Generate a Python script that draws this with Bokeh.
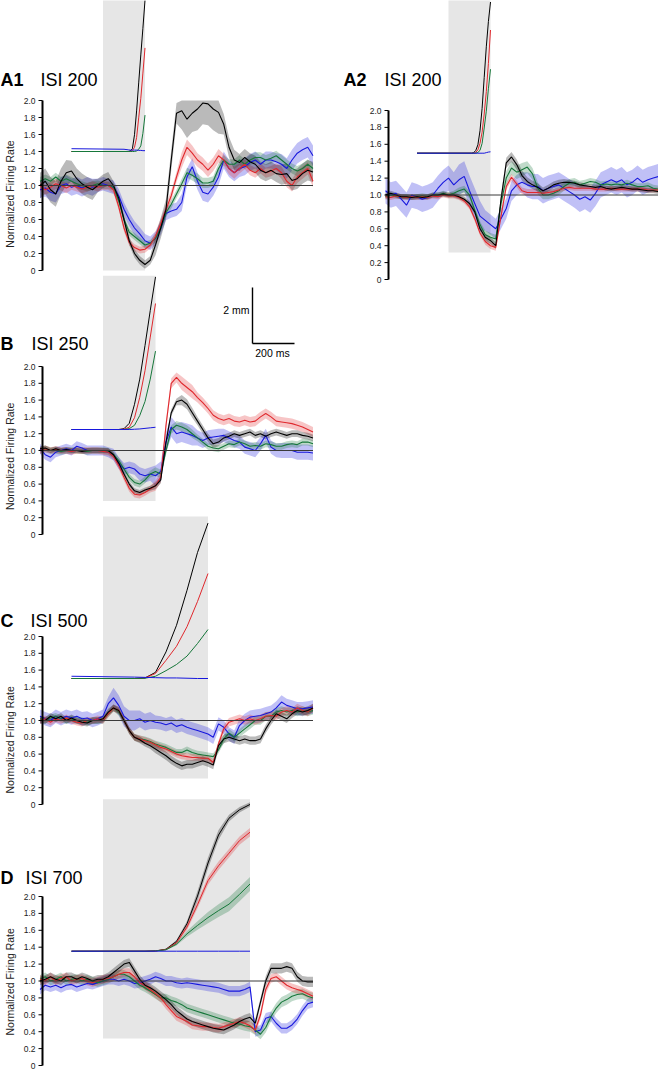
import numpy as np
from bokeh.plotting import figure
from bokeh.models import Range1d
from bokeh.core.properties import value
from bokeh.embed import file_html
from bokeh.resources import INLINE

# ---------------------------------------------------------------- data
TIME_MS = list(range(-300, 1001, 25))        # firing-rate time base, ms from CS onset
SEM_TIME_MS = list(range(-300, 1001, 100))   # time base of the SEM values
TICK_VALUES = [0.0, 0.2, 0.4, 0.6, 0.8, 1.0, 1.2, 1.4, 1.6, 1.8, 2.0]
TICK_LABELS = ["0", "0.2", "0.4", "0.6", "0.8", "1.0", "1.2", "1.4", "1.6", "1.8", "2.0"]
Y_LABEL = "Normalized Firing Rate"
SCALE_MM = 2
SCALE_MS = 200
SCALE_LABELS = ["2 mm", "200 ms"]

# ---- A1, ISI 200
A1_ISI = 200
A1_BLACK = [1.00, 1.05, 0.95, 0.90, 1.05, 1.15, 1.17, 1.08, 1.02, 0.98, 0.95, 1.00, 1.05,
            1.08, 1.00, 0.85, 0.60, 0.35, 0.20, 0.12, 0.07, 0.12, 0.30, 0.50, 0.72, 1.30,
            1.85, 1.88, 1.78, 1.85, 1.90, 1.97, 1.96, 1.90, 1.86, 1.72, 1.45, 1.30, 1.27,
            1.33, 1.28, 1.25, 1.18, 1.15, 1.18, 1.14, 1.13, 1.14, 1.06, 1.08, 1.14, 1.18,
            1.16]
A1_RED = [1.00, 0.95, 0.98, 1.02, 1.00, 0.97, 1.00, 0.98, 0.96, 0.98, 1.00, 0.98, 1.00,
          1.00, 0.95, 0.75, 0.50, 0.33, 0.27, 0.24, 0.25, 0.30, 0.40, 0.55, 0.72, 0.88,
          1.10, 1.30, 1.45, 1.38, 1.30, 1.25, 1.18, 1.25, 1.35, 1.30, 1.20, 1.15, 1.20,
          1.25, 1.18, 1.15, 1.20, 1.15, 1.17, 1.20, 1.15, 1.05, 1.00, 1.10, 1.15, 1.20,
          1.05]
A1_GREEN = [1.05, 1.08, 1.05, 1.10, 1.05, 1.08, 1.05, 1.02, 1.00, 0.98, 1.00, 1.02, 1.00,
            1.00, 0.98, 0.82, 0.60, 0.45, 0.40, 0.35, 0.30, 0.32, 0.38, 0.50, 0.68, 0.78,
            0.90, 1.02, 1.15, 1.12, 1.08, 1.03, 1.03, 1.05, 1.20, 1.30, 1.25, 1.25, 1.30,
            1.25, 1.30, 1.33, 1.33, 1.30, 1.32, 1.35, 1.30, 1.25, 1.20, 1.17, 1.20, 1.25,
            1.20]
A1_BLUE = [0.95, 0.97, 0.92, 0.90, 1.00, 1.02, 0.98, 1.00, 0.97, 1.00, 0.98, 1.00, 1.02,
           1.00, 0.98, 0.88, 0.72, 0.60, 0.50, 0.43, 0.35, 0.32, 0.38, 0.50, 0.67, 0.70,
           0.72, 0.80, 1.10, 1.22, 1.05, 0.92, 0.90, 0.98, 1.10, 1.30, 1.20, 1.15, 1.20,
           1.22, 1.27, 1.30, 1.25, 1.30, 1.30, 1.28, 1.25, 1.20, 1.30, 1.38, 1.42, 1.45,
           1.35]
A1_SEM_BLACK = [0.15, 0.15, 0.12, 0.08, 0.05, 0.05, 0.12, 0.22, 0.25, 0.12, 0.10, 0.10, 0.12, 0.12]
A1_SEM_RED = [0.06, 0.06, 0.05, 0.05, 0.04, 0.04, 0.06, 0.09, 0.08, 0.07, 0.06, 0.06, 0.07, 0.07]
A1_SEM_GREEN = [0.05, 0.05, 0.05, 0.04, 0.04, 0.04, 0.05, 0.06, 0.06, 0.06, 0.06, 0.06, 0.06, 0.06]
A1_SEM_BLUE = [0.10, 0.10, 0.10, 0.08, 0.08, 0.08, 0.08, 0.10, 0.10, 0.10, 0.10, 0.10, 0.12, 0.12]
A1_EYE_T = [-150, 100, 120, 130, 140, 150, 160, 170, 180, 190, 200]
A1_EYE_BLACK = [0, 0, 0.0, 0.02, 0.1, 0.6, 1.45, 2.45, 3.45, 4.4, 5.4]
A1_EYE_RED = [0, 0, 0, 0.0, 0.03, 0.15, 0.5, 1.2, 1.9, 2.8, 3.7]
A1_EYE_GREEN = [0, 0, 0, 0, 0, 0.0, 0.02, 0.08, 0.2, 0.65, 1.3]
A1_EYE_BLUE = [0.1, 0.08, 0.06, 0.05, 0.05, 0.05, 0.05, 0.04, 0.04, 0.03, 0.03]

# ---- A2, ISI 200
A2_ISI = 200
A2_BLACK = [1.00, 1.02, 1.00, 0.98, 0.98, 0.97, 0.98, 0.97, 0.98, 1.00, 1.00, 1.01, 1.00,
            1.00, 0.98, 0.95, 0.90, 0.80, 0.60, 0.50, 0.46, 0.40, 0.95, 1.38, 1.45, 1.36,
            1.23, 1.16, 1.12, 1.09, 1.05, 1.08, 1.12, 1.14, 1.15, 1.15, 1.14, 1.12, 1.11,
            1.10, 1.09, 1.10, 1.08, 1.07, 1.08, 1.09, 1.08, 1.07, 1.07, 1.06, 1.05, 1.05,
            1.04]
A2_RED = [0.98, 0.97, 0.99, 0.98, 0.97, 0.98, 0.97, 0.98, 0.97, 0.99, 0.98, 1.00, 0.99,
          0.99, 0.97, 0.93, 0.86, 0.72, 0.55, 0.45, 0.40, 0.38, 0.75, 1.10, 1.21, 1.13,
          1.05, 1.03, 1.03, 1.03, 1.02, 1.03, 1.04, 1.06, 1.08, 1.09, 1.08, 1.08, 1.08,
          1.08, 1.07, 1.07, 1.07, 1.08, 1.07, 1.07, 1.07, 1.07, 1.07, 1.07, 1.06, 1.06,
          1.06]
A2_GREEN = [0.98, 1.00, 0.99, 0.98, 0.98, 0.97, 0.98, 0.99, 0.98, 1.00, 1.00, 1.02, 1.00,
            1.02, 1.05, 1.07, 1.00, 0.82, 0.65, 0.53, 0.50, 0.48, 0.90, 1.20, 1.32, 1.27,
            1.30, 1.33, 1.25, 1.08, 1.00, 1.00, 1.02, 1.05, 1.10, 1.14, 1.15, 1.12, 1.14,
            1.16, 1.15, 1.12, 1.13, 1.12, 1.13, 1.12, 1.14, 1.12, 1.10, 1.10, 1.11, 1.08,
            1.07]
A2_BLUE = [1.05, 1.00, 1.02, 0.95, 0.88, 1.00, 0.98, 0.95, 0.97, 1.00, 1.08, 1.15, 1.20,
           1.12, 1.18, 1.22, 1.05, 0.90, 0.75, 0.70, 0.65, 0.60, 0.72, 0.84, 1.05, 1.12,
           1.15, 1.12, 1.10, 1.10, 1.05, 1.08, 1.10, 1.12, 1.08, 1.04, 1.00, 0.95, 0.98,
           0.94, 1.02, 1.12, 1.15, 1.18, 1.15, 1.18, 1.12, 1.15, 1.20, 1.15, 1.18, 1.20,
           1.22]
A2_SEM_BLACK = [0.03, 0.03, 0.03, 0.03, 0.03, 0.04, 0.06, 0.05, 0.04, 0.03, 0.03, 0.03, 0.03, 0.03]
A2_SEM_RED = [0.03, 0.03, 0.03, 0.03, 0.03, 0.04, 0.04, 0.04, 0.03, 0.03, 0.03, 0.03, 0.03, 0.03]
A2_SEM_GREEN = [0.03, 0.03, 0.03, 0.03, 0.04, 0.05, 0.08, 0.07, 0.05, 0.05, 0.04, 0.04, 0.04, 0.04]
A2_SEM_BLUE = [0.15, 0.15, 0.15, 0.15, 0.18, 0.12, 0.12, 0.15, 0.15, 0.15, 0.15, 0.15, 0.15, 0.15]
A2_EYE_T = [-150, 110, 120, 130, 140, 150, 160, 170, 180, 190, 200]
A2_EYE_BLACK = [0, 0, 0.02, 0.1, 0.3, 0.8, 1.6, 2.7, 3.8, 4.7, 5.4]
A2_EYE_RED = [0, 0, 0, 0.03, 0.12, 0.35, 0.75, 1.4, 2.2, 3.2, 4.4]
A2_EYE_GREEN = [0, 0, 0, 0, 0.03, 0.1, 0.35, 0.9, 1.5, 2.3, 3.0]
A2_EYE_BLUE = [0, 0, 0, 0, 0, 0, 0, 0, 0.02, 0.04, 0.05]

# ---- B, ISI 250
B_ISI = 250
B_BLACK = [1.02, 1.03, 1.00, 1.02, 1.00, 1.01, 1.00, 1.00, 0.99, 1.00, 1.00, 1.00, 1.00,
           1.00, 0.95, 0.85, 0.72, 0.60, 0.52, 0.50, 0.53, 0.55, 0.58, 0.65, 1.10, 1.45,
           1.58, 1.60, 1.55, 1.45, 1.35, 1.25, 1.15, 1.08, 1.10, 1.15, 1.17, 1.20, 1.18,
           1.20, 1.22, 1.18, 1.20, 1.17, 1.20, 1.22, 1.20, 1.18, 1.20, 1.20, 1.18, 1.17,
           1.15]
B_RED = [1.00, 1.02, 1.00, 1.01, 1.00, 1.00, 0.99, 1.00, 1.00, 1.00, 1.00, 1.00, 0.99,
         0.98, 0.93, 0.82, 0.68, 0.55, 0.48, 0.47, 0.50, 0.54, 0.58, 0.68, 1.30, 1.80,
         1.87, 1.80, 1.75, 1.70, 1.63, 1.57, 1.50, 1.42, 1.38, 1.36, 1.38, 1.35, 1.34,
         1.36, 1.34, 1.35, 1.40, 1.44, 1.40, 1.35, 1.34, 1.33, 1.32, 1.30, 1.28, 1.25,
         1.22]
B_GREEN = [1.00, 1.02, 1.00, 1.00, 0.99, 1.00, 1.00, 1.00, 1.00, 0.99, 1.00, 1.00, 1.00,
           0.99, 0.95, 0.88, 0.78, 0.68, 0.62, 0.60, 0.65, 0.72, 0.75, 0.72, 1.00, 1.25,
           1.30, 1.28, 1.25, 1.20, 1.15, 1.10, 1.05, 1.03, 1.02, 1.05, 1.08, 1.07, 1.10,
           1.08, 1.05, 1.06, 1.05, 1.08, 1.07, 1.05, 1.05, 1.07, 1.08, 1.07, 1.10, 1.10,
           1.08]
B_BLUE = [1.02, 0.95, 0.92, 0.98, 1.00, 1.02, 1.00, 1.05, 1.03, 1.00, 1.00, 1.00, 1.00,
          0.98, 0.95, 0.85, 0.78, 0.80, 0.78, 0.72, 0.70, 0.72, 0.70, 0.75, 1.10, 1.28,
          1.20, 1.22, 1.20, 1.18, 1.15, 1.12, 1.15, 1.16, 1.17, 1.18, 1.15, 1.12, 1.10,
          1.04, 1.02, 1.00, 1.08, 1.18, 1.04, 1.00, 1.00, 1.00, 1.00, 0.98, 0.98, 0.98,
          0.97]
B_SEM_BLACK = [0.03, 0.03, 0.03, 0.03, 0.03, 0.03, 0.04, 0.06, 0.05, 0.04, 0.04, 0.04, 0.04, 0.04]
B_SEM_RED = [0.04, 0.04, 0.04, 0.04, 0.04, 0.04, 0.06, 0.08, 0.06, 0.06, 0.06, 0.06, 0.06, 0.06]
B_SEM_GREEN = [0.04, 0.04, 0.04, 0.04, 0.04, 0.04, 0.05, 0.05, 0.04, 0.04, 0.04, 0.04, 0.04, 0.04]
B_SEM_BLUE = [0.06, 0.06, 0.06, 0.06, 0.07, 0.08, 0.12, 0.12, 0.09, 0.08, 0.08, 0.08, 0.09, 0.09]
B_EYE_T = [-150, 75, 100, 125, 150, 175, 200, 225, 250]
B_EYE_BLACK = [0, 0, 0.03, 0.22, 0.9, 1.8, 3.0, 4.25, 5.45]
B_EYE_RED = [0, 0, 0.01, 0.08, 0.42, 1.15, 2.1, 3.3, 4.5]
B_EYE_GREEN = [0, 0, 0, 0.03, 0.15, 0.5, 1.0, 1.8, 2.8]
B_EYE_BLUE = [0, 0, 0, 0, 0.01, 0.02, 0.04, 0.06, 0.08]

# ---- C, ISI 500
C_ISI = 500
C_BLACK = [1.00, 1.00, 1.05, 1.02, 1.05, 1.00, 1.03, 1.00, 0.98, 0.97, 1.00, 1.00, 1.02,
           1.10, 1.15, 1.12, 1.00, 0.88, 0.80, 0.77, 0.73, 0.70, 0.66, 0.62, 0.58, 0.53,
           0.49, 0.46, 0.48, 0.48, 0.50, 0.52, 0.50, 0.47, 0.70, 0.78, 0.80, 0.78, 0.76,
           0.78, 0.76, 0.76, 0.78, 0.90, 1.00, 1.08, 1.05, 1.02, 1.08, 1.12, 1.10, 1.12,
           1.15]
C_RED = [1.00, 1.02, 0.98, 1.02, 1.00, 1.03, 1.00, 0.98, 0.97, 1.00, 1.00, 1.02, 1.00,
         1.08, 1.15, 1.12, 1.00, 0.88, 0.80, 0.78, 0.76, 0.74, 0.71, 0.68, 0.66, 0.63,
         0.60, 0.58, 0.57, 0.56, 0.56, 0.55, 0.55, 0.50, 0.72, 0.90, 0.98, 1.00, 1.02,
         1.00, 1.02, 1.00, 1.02, 1.05, 1.06, 1.05, 1.10, 1.12, 1.10, 1.15, 1.12, 1.10,
         1.15]
C_GREEN = [1.02, 1.00, 1.03, 1.05, 1.02, 1.00, 1.02, 1.00, 1.00, 0.98, 1.00, 1.00, 1.00,
           1.08, 1.15, 1.10, 1.00, 0.88, 0.80, 0.78, 0.77, 0.75, 0.72, 0.70, 0.68, 0.65,
           0.62, 0.62, 0.65, 0.62, 0.60, 0.59, 0.58, 0.57, 0.65, 0.78, 0.85, 0.80, 0.85,
           0.90, 0.95, 1.00, 1.00, 1.05, 1.05, 1.10, 1.12, 1.10, 1.12, 1.10, 1.12, 1.10,
           1.12]
C_BLUE = [1.05, 1.02, 1.00, 1.05, 1.02, 1.05, 1.03, 1.05, 1.02, 1.03, 1.00, 1.02, 1.05,
          1.20, 1.27, 1.18, 1.05, 1.00, 1.00, 1.02, 0.98, 1.00, 0.98, 0.97, 0.95, 0.97,
          0.93, 0.95, 0.92, 0.90, 0.88, 0.86, 0.84, 0.80, 0.96, 0.92, 0.84, 0.80, 0.94,
          1.00, 1.04, 1.05, 1.06, 1.08, 1.10, 1.15, 1.22, 1.18, 1.16, 1.14, 1.14, 1.15,
          1.16]
C_SEM_BLACK = [0.04, 0.04, 0.04, 0.04, 0.04, 0.04, 0.05, 0.05, 0.05, 0.05, 0.05, 0.05, 0.05, 0.05]
C_SEM_RED = [0.04, 0.04, 0.04, 0.04, 0.04, 0.04, 0.04, 0.04, 0.04, 0.05, 0.05, 0.05, 0.05, 0.05]
C_SEM_GREEN = [0.04, 0.04, 0.04, 0.04, 0.04, 0.04, 0.04, 0.04, 0.04, 0.05, 0.05, 0.05, 0.05, 0.05]
C_SEM_BLUE = [0.08, 0.08, 0.08, 0.08, 0.12, 0.10, 0.08, 0.08, 0.08, 0.08, 0.08, 0.08, 0.08, 0.08]
C_EYE_T = [-150, 150, 200, 250, 300, 350, 400, 450, 500]
C_EYE_BLACK = [0, 0, 0.02, 0.22, 0.95, 1.9, 3.15, 4.5, 5.55]
C_EYE_RED = [0, 0, 0.02, 0.18, 0.65, 1.15, 1.85, 2.75, 3.75]
C_EYE_GREEN = [0, 0, 0.01, 0.08, 0.28, 0.5, 0.8, 1.25, 1.75]
C_EYE_BLUE = [0.08, 0.05, 0.04, 0.03, 0.02, 0.02, 0.01, 0.0, 0.0]

# ---- D, ISI 700
D_ISI = 700
D_BLACK = [1.00, 1.02, 1.05, 1.02, 1.00, 1.05, 1.05, 1.02, 1.05, 1.03, 1.00, 1.02, 1.02,
           1.05, 1.10, 1.15, 1.20, 1.22, 1.12, 1.02, 0.95, 0.92, 0.88, 0.83, 0.78, 0.72,
           0.65, 0.60, 0.55, 0.52, 0.50, 0.48, 0.46, 0.44, 0.43, 0.42, 0.45, 0.48, 0.52,
           0.55, 0.57, 0.50, 0.75, 1.00, 1.15, 1.15, 1.15, 1.17, 1.15, 1.05, 1.00, 0.99,
           0.99]
D_RED = [1.02, 1.00, 1.05, 1.00, 1.03, 1.05, 1.00, 1.02, 1.03, 1.00, 0.98, 1.00, 1.02,
         1.03, 1.05, 1.08, 1.10, 1.10, 1.05, 0.98, 0.95, 0.90, 0.85, 0.80, 0.72, 0.65,
         0.58, 0.55, 0.52, 0.48, 0.47, 0.46, 0.46, 0.45, 0.44, 0.46, 0.48, 0.50, 0.52,
         0.50, 0.47, 0.42, 0.60, 0.90, 1.03, 1.05, 1.00, 0.95, 0.92, 0.90, 0.88, 0.85,
         0.82]
D_GREEN = [1.02, 1.05, 1.00, 1.02, 1.05, 1.00, 1.02, 1.03, 1.00, 1.02, 1.00, 0.98, 1.00,
           1.02, 1.05, 1.08, 1.08, 1.05, 1.00, 0.95, 0.92, 0.88, 0.84, 0.80, 0.80, 0.77,
           0.75, 0.72, 0.68, 0.66, 0.64, 0.62, 0.60, 0.58, 0.56, 0.54, 0.52, 0.50, 0.49,
           0.47, 0.46, 0.42, 0.37, 0.45, 0.58, 0.68, 0.75, 0.78, 0.82, 0.84, 0.85, 0.82,
           0.80]
D_BLUE = [0.90, 0.95, 0.93, 0.95, 0.92, 0.95, 0.96, 0.93, 0.95, 0.97, 0.96, 0.98, 1.00,
          1.02, 1.02, 1.00, 1.02, 1.00, 0.97, 0.98, 1.00, 1.02, 1.05, 1.03, 1.00, 1.00,
          0.98, 0.97, 0.98, 0.97, 0.96, 0.95, 0.94, 0.93, 0.92, 0.90, 0.88, 0.88, 0.88,
          0.90, 0.93, 0.40, 0.42, 0.56, 0.58, 0.50, 0.44, 0.44, 0.48, 0.55, 0.65, 0.73,
          0.75]
D_SEM_BLACK = [0.05, 0.05, 0.05, 0.05, 0.05, 0.05, 0.05, 0.05, 0.05, 0.05, 0.05, 0.06, 0.06, 0.06]
D_SEM_RED = [0.05, 0.05, 0.05, 0.05, 0.05, 0.05, 0.05, 0.05, 0.05, 0.05, 0.05, 0.05, 0.05, 0.05]
D_SEM_GREEN = [0.05, 0.05, 0.05, 0.05, 0.05, 0.05, 0.05, 0.05, 0.05, 0.05, 0.06, 0.06, 0.06, 0.06]
D_SEM_BLUE = [0.06, 0.06, 0.06, 0.06, 0.06, 0.06, 0.06, 0.06, 0.06, 0.06, 0.06, 0.06, 0.06, 0.06]
D_EYE_T = [-150, 200, 250, 300, 350, 400, 450, 500, 550, 600, 650, 700]
D_EYE_BLACK = [0, 0, 0.01, 0.07, 0.35, 0.98, 1.97, 3.15, 4.15, 4.75, 5.05, 5.24]
D_EYE_RED = [0, 0, 0.01, 0.06, 0.3, 0.86, 1.66, 2.52, 3.05, 3.5, 3.95, 4.25]
D_EYE_GREEN = [0, 0, 0.01, 0.05, 0.25, 0.62, 0.92, 1.2, 1.45, 1.68, 2.03, 2.4]
D_EYE_BLUE = [0, 0, 0, 0, 0, 0, 0, 0, 0, 0, 0, 0]
D_EYE_SEM_BLACK = [0, 0, 0, 0.02, 0.05, 0.1, 0.18, 0.2, 0.18, 0.12, 0.1, 0.08]
D_EYE_SEM_RED = [0, 0, 0, 0.02, 0.05, 0.1, 0.13, 0.15, 0.15, 0.15, 0.15, 0.15]
D_EYE_SEM_GREEN = [0, 0, 0, 0.02, 0.05, 0.1, 0.15, 0.2, 0.23, 0.25, 0.25, 0.25]
D_EYE_SEM_BLUE = [0, 0, 0, 0, 0, 0, 0, 0, 0, 0, 0, 0]

# ---------------------------------------------------------------- layout / style
W, H, M = 658, 1069, 0          # canvas size and page offset (template has no body margin)
PXMS = 0.21                     # pixels per ms
MMPX = 28.0                     # pixels per mm of eyelid closure
FONT = "Liberation Sans"
COLORS = {"black": "#000000", "red": "#e0282d", "green": "#16773a", "blue": "#1717dd"}
ORDER = ["blue", "green", "red", "black"]

PANELS = [
    dict(key="A1", letter="A1", isi_text="ISI 200", isi=A1_ISI, x0=102.5, axis_x=42, y0=270, k=85,
         yb=151, gray=(0.0, 3.4), letter_x=0, isi_x=40, base_y=79, ylabel_r=0.9,
         rate=dict(black=A1_BLACK, red=A1_RED, green=A1_GREEN, blue=A1_BLUE),
         sem=dict(black=A1_SEM_BLACK, red=A1_SEM_RED, green=A1_SEM_GREEN, blue=A1_SEM_BLUE),
         eye_t=A1_EYE_T, eye=dict(black=A1_EYE_BLACK, red=A1_EYE_RED, green=A1_EYE_GREEN, blue=A1_EYE_BLUE),
         eye_sem=None),
    dict(key="A2", letter="A2", isi_text="ISI 200", isi=A2_ISI, x0=448, axis_x=388, y0=279, k=84.5,
         yb=152.7, gray=(0.32, 3.5), letter_x=343, isi_x=384, base_y=79, ylabel_r=None,
         rate=dict(black=A2_BLACK, red=A2_RED, green=A2_GREEN, blue=A2_BLUE),
         sem=dict(black=A2_SEM_BLACK, red=A2_SEM_RED, green=A2_SEM_GREEN, blue=A2_SEM_BLUE),
         eye_t=A2_EYE_T, eye=dict(black=A2_EYE_BLACK, red=A2_EYE_RED, green=A2_EYE_GREEN, blue=A2_EYE_BLUE),
         eye_sem=None),
    dict(key="B", letter="B", isi_text="ISI 250", isi=B_ISI, x0=102.5, axis_x=42, y0=534, k=84,
         yb=429, gray=(0.40, 3.08), letter_x=0, isi_x=31, base_y=343, ylabel_r=0.93,
         rate=dict(black=B_BLACK, red=B_RED, green=B_GREEN, blue=B_BLUE),
         sem=dict(black=B_SEM_BLACK, red=B_SEM_RED, green=B_SEM_GREEN, blue=B_SEM_BLUE),
         eye_t=B_EYE_T, eye=dict(black=B_EYE_BLACK, red=B_EYE_RED, green=B_EYE_GREEN, blue=B_EYE_BLUE),
         eye_sem=None),
    dict(key="C", letter="C", isi_text="ISI 500", isi=C_ISI, x0=102.5, axis_x=42, y0=804, k=84,
         yb=678, gray=(0.31, 3.43), letter_x=0, isi_x=30, base_y=620, ylabel_r=0.77,
         rate=dict(black=C_BLACK, red=C_RED, green=C_GREEN, blue=C_BLUE),
         sem=dict(black=C_SEM_BLACK, red=C_SEM_RED, green=C_SEM_GREEN, blue=C_SEM_BLUE),
         eye_t=C_EYE_T, eye=dict(black=C_EYE_BLACK, red=C_EYE_RED, green=C_EYE_GREEN, blue=C_EYE_BLUE),
         eye_sem=None),
    dict(key="D", letter="D", isi_text="ISI 700", isi=D_ISI, x0=102.5, axis_x=42, y0=1065, k=84.5,
         yb=950.7, gray=(0.32, 3.15), letter_x=0, isi_x=25, base_y=877, ylabel_r=0.99,
         rate=dict(black=D_BLACK, red=D_RED, green=D_GREEN, blue=D_BLUE),
         sem=dict(black=D_SEM_BLACK, red=D_SEM_RED, green=D_SEM_GREEN, blue=D_SEM_BLUE),
         eye_t=D_EYE_T, eye=dict(black=D_EYE_BLACK, red=D_EYE_RED, green=D_EYE_GREEN, blue=D_EYE_BLUE),
         eye_sem=dict(black=D_EYE_SEM_BLACK, red=D_EYE_SEM_RED, green=D_EYE_SEM_GREEN, blue=D_EYE_SEM_BLUE)),
]


def time_range(x0):
    return Range1d(start=(M - x0) / PXMS, end=(M + W - x0) / PXMS)


def value_range(y0, k):
    return Range1d(start=(y0 - (M + H)) / k, end=(y0 - M) / k)


p = figure(width=W, height=H, x_range=time_range(102.5), y_range=Range1d(0, 1),
           output_backend="svg", toolbar_location=None, min_border=0,
           x_axis_type=None, y_axis_type=None, outline_line_color=None,
           background_fill_color="white", border_fill_color="white", title=None)

extra_x = {"right": time_range(448)}
extra_y = {}
for pn in PANELS:
    extra_y[pn["key"] + "_r"] = value_range(pn["y0"], pn["k"])
    extra_y[pn["key"] + "_e"] = value_range(pn["yb"], MMPX)
p.extra_x_ranges = extra_x
p.extra_y_ranges = extra_y

t = np.array(TIME_MS, dtype=float)
sem_idx = np.rint((t - SEM_TIME_MS[0]) / (SEM_TIME_MS[1] - SEM_TIME_MS[0])).astype(int)
tf = value(FONT)

for pn in PANELS:
    xn = "right" if pn["key"] == "A2" else "default"
    rn, en = pn["key"] + "_r", pn["key"] + "_e"
    x0, y0, k = pn["x0"], pn["y0"], pn["k"]
    kr = dict(x_range_name=xn, y_range_name=rn)
    ke = dict(x_range_name=xn, y_range_name=en)

    # CS-US interval shading
    p.quad(left=[0], right=[pn["isi"]], bottom=[pn["gray"][0]], top=[pn["gray"][1]],
           fill_color="#e6e6e6", line_color=None, **kr)

    # eyelid traces
    et = np.array(pn["eye_t"], dtype=float)
    for s in ["black", "red", "green", "blue"]:
        v = np.array(pn["eye"][s], dtype=float)
        if pn["eye_sem"] is not None and max(pn["eye_sem"][s]) > 0:
            se = np.array(pn["eye_sem"][s], dtype=float)
            p.varea(x=et, y1=v - se, y2=v + se, fill_color=COLORS[s], fill_alpha=0.28, **ke)
        p.line(x=et, y=v, line_color=COLORS[s], line_width=1.0, **ke)

    # firing-rate bands and means
    for s in ORDER:
        mval = np.array(pn["rate"][s], dtype=float)
        assert len(mval) == len(t), (pn["key"], s, len(mval))
        se = np.array(pn["sem"][s], dtype=float)[sem_idx]
        p.varea(x=t, y1=mval - se, y2=np.minimum(mval + se, TICK_VALUES[-1]),
                fill_color=COLORS[s], fill_alpha=0.27, **kr)
    for s in ORDER:
        p.line(x=t, y=np.array(pn["rate"][s], dtype=float), line_color=COLORS[s],
               line_width=1.1, **kr)

    axis_t = (pn["axis_x"] - x0) / PXMS
    # baseline at 1.0
    p.segment(x0=[axis_t], y0=[1.0], x1=[TIME_MS[-1]], y1=[1.0], line_color="#3a3a3a",
              line_width=1.0, **kr)
    # y axis
    p.segment(x0=[axis_t], y0=[TICK_VALUES[0]], x1=[axis_t], y1=[TICK_VALUES[-1]],
              line_color="black", line_width=2, **kr)
    p.segment(x0=[axis_t - 4 / PXMS] * len(TICK_VALUES), y0=TICK_VALUES,
              x1=[axis_t] * len(TICK_VALUES), y1=TICK_VALUES,
              line_color="black", line_width=1, **kr)
    p.text(x=[axis_t - 7 / PXMS] * len(TICK_VALUES), y=TICK_VALUES, text=TICK_LABELS,
           text_align="right", text_baseline="middle", text_font=tf,
           text_font_size="8.5px", text_color="#222222", **kr)
    if pn["ylabel_r"] is not None:
        p.text(x=[(9 - x0) / PXMS], y=[pn["ylabel_r"]], text=[Y_LABEL], angle=np.pi / 2,
               text_align="center", text_baseline="middle", text_font=tf,
               text_font_size="10.5px", text_color="#222222", **kr)

    # panel title
    by = (y0 - pn["base_y"]) / k
    p.text(x=[(pn["letter_x"] - x0) / PXMS], y=[by], text=[pn["letter"]],
           text_align="left", text_baseline="alphabetic", text_font=tf,
           text_font_style="bold", text_font_size="18px", text_color="black", **kr)
    p.text(x=[(pn["isi_x"] - x0) / PXMS], y=[by], text=[pn["isi_text"]],
           text_align="left", text_baseline="alphabetic", text_font=tf,
           text_font_size="18px", text_color="black", **kr)

# scale bar (drawn in panel B's eyelid coordinates)
pb = PANELS[2]
sb_t = (252 - pb["x0"]) / PXMS
sb_e = (pb["yb"] - 343) / MMPX
kb = dict(y_range_name="B_e")
p.segment(x0=[sb_t, sb_t], y0=[sb_e, sb_e], x1=[sb_t, sb_t + SCALE_MS], y1=[sb_e + SCALE_MM, sb_e],
          line_color="black", line_width=1.4, **kb)
p.text(x=[sb_t - 3 / PXMS], y=[(pb["yb"] - 309) / MMPX], text=[SCALE_LABELS[0]],
       text_align="right", text_baseline="middle", text_font=tf, text_font_size="10.5px",
       text_color="black", **kb)
p.text(x=[(272 - pb["x0"]) / PXMS], y=[(pb["yb"] - 352) / MMPX], text=[SCALE_LABELS[1]],
       text_align="center", text_baseline="middle", text_font=tf, text_font_size="10.5px",
       text_color="black", **kb)

open("out.html", "w").write(file_html(p, INLINE))
